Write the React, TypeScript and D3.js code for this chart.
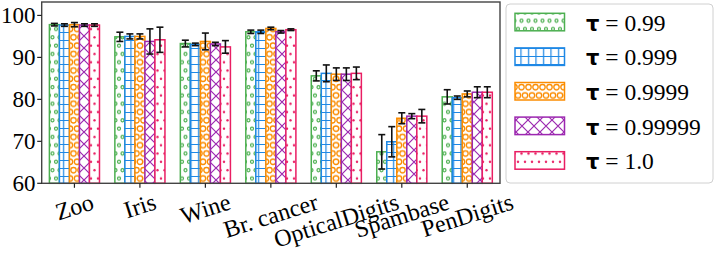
import React from 'react';
import * as d3 from 'd3';

const categories = ['Zoo', 'Iris', 'Wine', 'Br. cancer', 'OpticalDigits', 'Spambase', 'PenDigits'];
const seriesLabels = ['0.99', '0.999', '0.9999', '0.99999', '1.0'];
const means099 = [97.8, 94.9, 93.3, 96.1, 85.6, 67.5, 80.6];
const err099 = [0.3, 1.1, 0.8, 0.4, 1.2, 4.1, 1.7];
const means0999 = [97.7, 95.0, 93.1, 96.1, 86.2, 69.9, 80.4];
const err0999 = [0.3, 0.6, 0.3, 0.4, 2.0, 3.6, 0.4];
const means09999 = [97.8, 95.0, 93.8, 96.9, 86.0, 75.5, 81.3];
const err09999 = [0.5, 0.6, 2.0, 0.3, 1.5, 1.3, 0.7];
const means099999 = [97.7, 93.8, 93.2, 96.1, 86.0, 76.0, 81.7];
const err099999 = [0.3, 3.0, 0.4, 0.3, 1.5, 0.6, 1.3];
const means1 = [97.7, 94.2, 92.5, 96.6, 86.2, 76.0, 81.7];
const err1 = [0.3, 3.0, 1.5, 0.2, 1.5, 1.6, 1.3];
const yTicks = [60, 70, 80, 90, 100];

const allMeans = [means099, means0999, means09999, means099999, means1];
const allErrs = [err099, err0999, err09999, err099999, err1];
const colors = ['#4caf50', '#1e88e5', '#fb8c00', '#9c27b0', '#e91e63'];
const patIds = ['pGreen', 'pBlue', 'pOrange', 'pPurple', 'pPink'];

const W = 718, H = 254;
const left = 41.7, right = 500, top = 2, bottom = 183.3;
const rot = 17.5;
const serif = { fontFamily: '"Liberation Serif"' };

let ctx: CanvasRenderingContext2D | null = null;
function textW(s: string, size: number) {
  if (!ctx && typeof document !== 'undefined') {
    ctx = document.createElement('canvas').getContext('2d');
  }
  if (!ctx) return s.length * size * 0.5;
  ctx.font = `${size}px "Liberation Serif"`;
  return ctx.measureText(s).width;
}

export default function App() {
  const x = d3.scaleBand<string>().domain(categories).range([left, right]).padding(0);
  const y = d3.scaleLinear().domain([60, 103.2]).range([bottom, top]);
  const barW = x.bandwidth() * 0.153;
  const groupW = barW * 5;

  const a = (rot * Math.PI) / 180;
  const labelTop = 188;
  const fs = 24;

  return (
    <svg width={W} height={H} style={{ position: 'absolute', left: 0, top: 0, background: '#fff' }}>
      <defs>
        <pattern id="pGreen" patternUnits="userSpaceOnUse" width={7} height={16.6}>
          <rect width={7} height={16.6} fill="#fff" />
          <circle cx={3.5} cy={4.15} r={1.5} fill="none" stroke={colors[0]} strokeWidth={1.2} />
          <circle cx={0} cy={12.45} r={1.5} fill="none" stroke={colors[0]} strokeWidth={1.2} />
          <circle cx={7} cy={12.45} r={1.5} fill="none" stroke={colors[0]} strokeWidth={1.2} />
        </pattern>
        <pattern id="pBlue" patternUnits="userSpaceOnUse" width={7.5} height={8}>
          <rect width={7.5} height={8} fill="#fff" />
          <path d="M0,0.5H7.5M3.5,0V8" stroke={colors[1]} strokeWidth={1.2} fill="none" />
        </pattern>
        <pattern id="pOrange" patternUnits="userSpaceOnUse" width={7} height={16.6}>
          <rect width={7} height={16.6} fill="#fff" />
          <circle cx={3.5} cy={4.15} r={2.7} fill="none" stroke={colors[2]} strokeWidth={1.3} />
          <circle cx={0} cy={12.45} r={2.7} fill="none" stroke={colors[2]} strokeWidth={1.3} />
          <circle cx={7} cy={12.45} r={2.7} fill="none" stroke={colors[2]} strokeWidth={1.3} />
          <circle cx={0} cy={-4.15} r={2.7} fill="none" stroke={colors[2]} strokeWidth={1.3} />
          <circle cx={7} cy={-4.15} r={2.7} fill="none" stroke={colors[2]} strokeWidth={1.3} />
          <circle cx={3.5} cy={20.75} r={2.7} fill="none" stroke={colors[2]} strokeWidth={1.3} />
        </pattern>
        <pattern id="pPurple" patternUnits="userSpaceOnUse" width={12} height={12}>
          <rect width={12} height={12} fill="#fff" />
          <path d="M0,0L12,12M12,0L0,12" stroke={colors[3]} strokeWidth={1.2} fill="none" />
        </pattern>
        <pattern id="pPink" patternUnits="userSpaceOnUse" width={7} height={16.6}>
          <rect width={7} height={16.6} fill="#fff" />
          <circle cx={3.5} cy={4.15} r={1.2} fill={colors[4]} />
          <circle cx={0} cy={12.45} r={1.2} fill={colors[4]} />
          <circle cx={7} cy={12.45} r={1.2} fill={colors[4]} />
        </pattern>
      </defs>

      {/* bars */}
      {allMeans.map((means, si) =>
        means.map((v, ci) => {
          const cx = (x(categories[ci]) as number) + x.bandwidth() / 2;
          const bx = cx - groupW / 2 + si * barW;
          return (
            <rect
              key={`b${si}-${ci}`}
              x={bx}
              y={y(v)}
              width={barW}
              height={bottom - y(v)}
              fill={`url(#${patIds[si]})`}
              stroke={colors[si]}
              strokeWidth={1.5}
            />
          );
        })
      )}

      {/* error bars */}
      {allMeans.map((means, si) =>
        means.map((v, ci) => {
          const cx = (x(categories[ci]) as number) + x.bandwidth() / 2;
          const ex = cx - groupW / 2 + (si + 0.5) * barW;
          const e = allErrs[si][ci];
          const y1 = y(v + e), y2 = y(v - e);
          return (
            <g key={`e${si}-${ci}`} stroke="#111" strokeWidth={1.6}>
              <line x1={ex} x2={ex} y1={y1} y2={y2} />
              <line x1={ex - 3.5} x2={ex + 3.5} y1={y1} y2={y1} />
              <line x1={ex - 3.5} x2={ex + 3.5} y1={y2} y2={y2} />
            </g>
          );
        })
      )}

      {/* frame */}
      <rect x={left} y={top} width={right - left} height={bottom - top} fill="none" stroke="#444" strokeWidth={1.4} />

      {/* y ticks */}
      {yTicks.map((t) => (
        <g key={`yt${t}`}>
          <line x1={left - 4.5} x2={left} y1={y(t)} y2={y(t)} stroke="#222" strokeWidth={1.2} />
          <text x={35.5} y={y(t) + 7.8} textAnchor="end" style={serif} fontSize={23} fill="#000">
            {t}
          </text>
        </g>
      ))}

      {/* x ticks and labels */}
      {categories.map((c) => {
        const cx = (x(c) as number) + x.bandwidth() / 2;
        const w = textW(c, fs);
        const h = fs * 1.15;
        const yc = labelTop + (w * Math.sin(a) + h * Math.cos(a)) / 2;
        return (
          <g key={`xt${c}`}>
            <line x1={cx} x2={cx} y1={bottom} y2={bottom + 4.5} stroke="#222" strokeWidth={1.2} />
            <text
              x={cx}
              y={yc}
              transform={`rotate(${-rot},${cx},${yc})`}
              textAnchor="middle"
              dominantBaseline="central"
              style={serif}
              fontSize={fs}
              fill="#000"
            >
              {c}
            </text>
          </g>
        );
      })}

      {/* legend */}
      <rect x={506} y={4} width={207} height={179} rx={4} ry={4} fill="#fff" stroke="#d0d0d0" strokeWidth={1} />
      {seriesLabels.map((lab, i) => {
        const sy = 13.3 + i * 34.6;
        return (
          <g key={`lg${i}`}>
            <rect x={515} y={sy} width={49.5} height={17.5} fill={`url(#${patIds[i]})`} stroke={colors[i]} strokeWidth={1.5} />
            <text x={586} y={sy + 17.5} fontSize={23.5} fill="#000">
              <tspan style={{ fontFamily: '"DejaVu Sans"' }} fontWeight="bold" fontSize={21}>τ</tspan>
              <tspan style={serif}>{` = ${lab}`}</tspan>
            </text>
          </g>
        );
      })}
    </svg>
  );
}
